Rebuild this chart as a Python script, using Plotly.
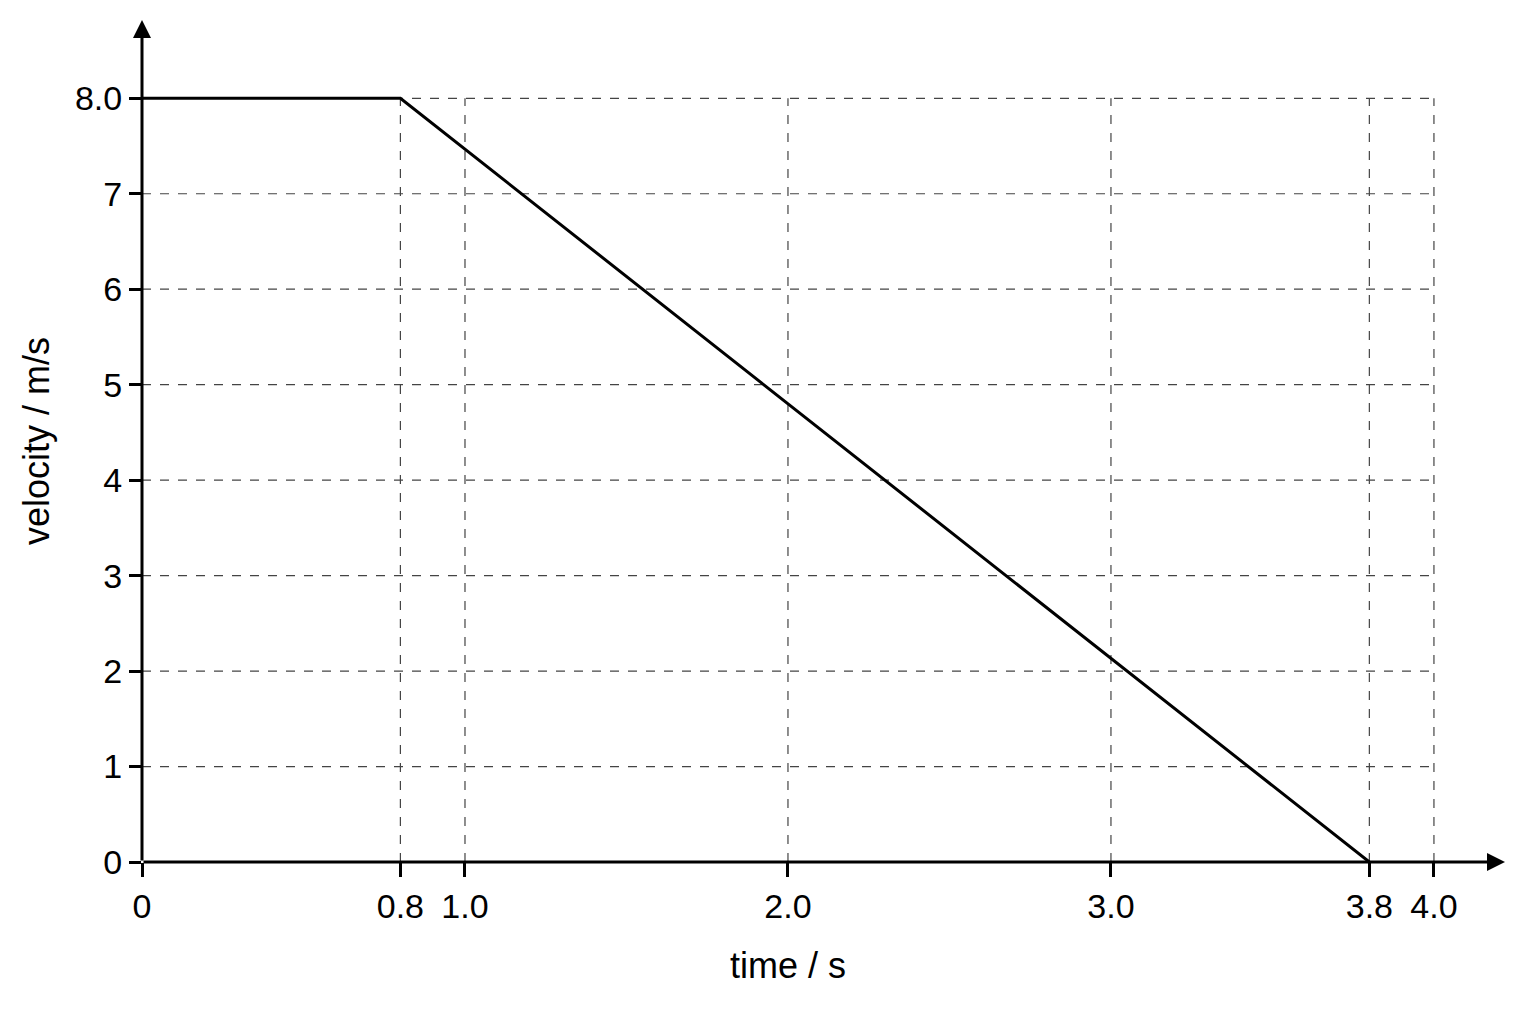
import plotly.graph_objects as go

# Data
time_s = [0.0, 0.8, 3.8]
velocity = [8.0, 8.0, 0.0]

x_tick_vals = [0.0, 0.8, 1.0, 2.0, 3.0, 3.8, 4.0]
x_tick_text = ["0", "0.8", "1.0", "2.0", "3.0", "3.8", "4.0"]
y_tick_vals = [0, 1, 2, 3, 4, 5, 6, 7, 8]
y_tick_text = ["0", "1", "2", "3", "4", "5", "6", "7", "8.0"]

x_max_grid = 4.0
y_max_grid = 8.0
x_range = [0, 4.22]
y_range = [0, 8.82]

FONT = "Liberation Sans, Arial, sans-serif"

fig = go.Figure()

# dashed grid confined to the data region
shapes = []
for xv in x_tick_vals[1:]:
    shapes.append(dict(type="line", xref="x", yref="y", x0=xv, x1=xv, y0=0, y1=y_max_grid,
                       line=dict(color="#444444", width=1.2, dash="dash"), layer="below"))
for yv in y_tick_vals[1:]:
    shapes.append(dict(type="line", xref="x", yref="y", x0=0, x1=x_max_grid, y0=yv, y1=yv,
                       line=dict(color="#444444", width=1.2, dash="dash"), layer="below"))

fig.add_trace(go.Scatter(x=time_s, y=velocity, mode="lines",
                         line=dict(color="black", width=3), showlegend=False,
                         hoverinfo="skip"))

# axis arrows + x-axis title centred under the grid
annotations = [
    dict(x=x_range[1], y=0, ax=0, ay=0, xref="x", yref="y", axref="x", ayref="y",
         showarrow=True, arrowhead=2, arrowsize=1.2, arrowwidth=3, arrowcolor="black", text=""),
    dict(x=0, y=y_range[1], ax=0, ay=0, xref="x", yref="y", axref="x", ayref="y",
         showarrow=True, arrowhead=2, arrowsize=1.2, arrowwidth=3, arrowcolor="black", text=""),
    dict(x=x_max_grid / 2, y=0, xref="x", yref="paper", yanchor="middle", xanchor="center",
         yshift=-103, showarrow=False, text="time / s", font=dict(size=36)),
]

fig.update_layout(
    width=1536, height=1024,
    paper_bgcolor="white", plot_bgcolor="white",
    margin=dict(l=134, r=39, t=12, b=170),
    font=dict(family=FONT, size=34, color="black"),
    shapes=shapes,
    annotations=annotations,
    xaxis=dict(range=x_range, tickvals=x_tick_vals, ticktext=x_tick_text,
               showgrid=False, zeroline=False, showline=False, automargin=False,
               ticks="outside", ticklen=14, tickwidth=2.5, tickcolor="black",
               tickfont=dict(size=34)),
    yaxis=dict(range=y_range, tickvals=y_tick_vals, ticktext=y_tick_text,
               showgrid=False, zeroline=False, showline=False, automargin=False,
               ticks="outside", ticklen=12, tickwidth=2.5, tickcolor="black",
               title=dict(text="velocity / m/s", standoff=14, font=dict(size=36)),
               tickfont=dict(size=34)),
)

fig.write_html("out.html")
